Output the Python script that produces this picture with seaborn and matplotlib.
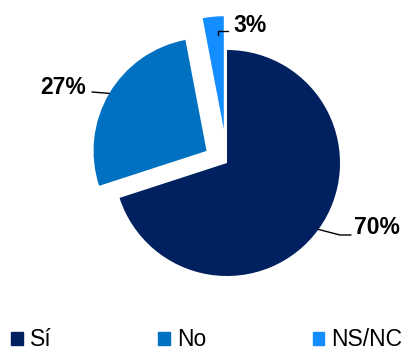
import numpy as np
import seaborn as sns
import matplotlib.pyplot as plt

# survey answers
labels = ["Sí", "No", "NS/NC"]
values = [70, 27, 3]
explode = [0.0, 0.21, 0.30]
colors = ["#002060", "#0070C0", "#138DFF"]

sns.set_theme(style="white")
plt.rcParams['font.family'] = ['Liberation Sans', 'DejaVu Sans']
plt.rcParams['text.color'] = 'black'

fig = plt.figure(figsize=(4.07, 3.56), dpi=100)
ax = fig.add_axes([0, 0, 1, 1])

cx, cy, r = 227, 193, 113
# matplotlib explode is in data units, so scale by radius
wedges, _ = ax.pie(values, explode=[e * r for e in explode], colors=sns.color_palette(colors),
                   startangle=90, counterclock=False, center=(cx, cy), radius=r,
                   wedgeprops=dict(linewidth=0))
# pie resets limits, so set pixel-like coords afterwards
ax.set_xlim(0, 407)
ax.set_ylim(0, 356)
ax.set_aspect("equal")
ax.axis("off")

# label text position (left edge, centre y) and leader line bend points
label_pos = [(354, 128), (40, 269), (233, 331)]
leader_bend = [[(340, 121), (351, 121)], [(92, 264)], [(228, 325), (218, 325), (218, 321)]]

for w, v, ex, (tx, ty), bend in zip(wedges, values, explode, label_pos, leader_bend):
    mid = np.deg2rad((w.theta1 + w.theta2) / 2)
    ox = cx + ex * r * np.cos(mid)
    oy = cy + ex * r * np.sin(mid)
    if v < 5:
        start = []
    else:
        start = [(ox + r * np.cos(mid), oy + r * np.sin(mid))]
    pts = np.array(start + bend)
    ax.plot(pts[:, 0], pts[:, 1], color="black", lw=1)
    ax.text(tx, ty, f"{v}%", ha="left", va="center",
            fontsize=16.5, fontweight="bold", color="black")

handles = [plt.Rectangle((0, 0), 1, 1, color=c) for c in colors]
leg = ax.legend(handles, labels, loc="center left", ncol=3,
                bbox_to_anchor=(0.027, 0.045), frameon=False,
                fontsize=16.5, handlelength=0.52, handleheight=0.52, handletextpad=0.3,
                columnspacing=4.65, borderaxespad=0.0, borderpad=0.0)
for t in leg.get_texts():
    t.set_color("black")

fig.savefig("out.png", dpi=100)
